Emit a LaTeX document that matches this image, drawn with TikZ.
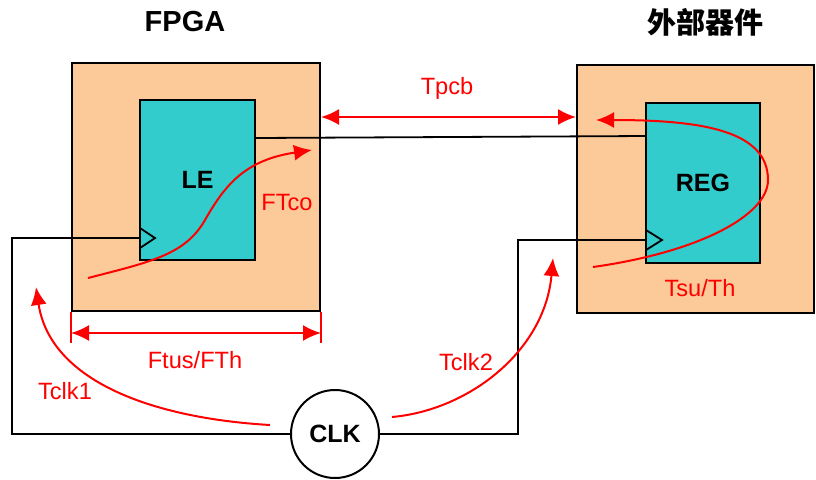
\documentclass[tikz,border=0pt]{standalone}
\usepackage{fontspec}
\setmainfont{Liberation Sans}
\newfontfamily\cjk{Noto Sans CJK SC}
\usetikzlibrary{arrows.meta}
\definecolor{chipOrange}{RGB}{252,202,153}
\definecolor{cellTeal}{RGB}{51,204,204}
\definecolor{pathRed}{RGB}{255,0,0}

\begin{document}
\begin{tikzpicture}[
  x=0.5pt, y=-0.5pt, font=\fontsize{11.8}{13}\selectfont,
  chip/.style={draw=black, fill=chipOrange, line width=1pt, inner sep=0pt},
  cellbox/.style={draw=black, fill=cellTeal, line width=1pt, inner sep=0pt,
                  font=\fontsize{12.5}{14}\selectfont\bfseries},
  wire/.style={draw=black, line width=0.9pt},
  dimarrow/.style={{Latex[length=9pt,width=8pt]}-{Latex[length=9pt,width=8pt]},
                   draw=pathRed, line width=1pt},
  tim/.style={-{Latex[length=9pt,width=8pt]}, draw=pathRed, line width=1pt},
  lab/.style={text=pathRed},
  ttl/.style={font=\fontsize{14.5}{16}\selectfont\bfseries},
]
\useasboundingbox (0,0) rectangle (816,479);

% ---------------- boxes ----------------
\node[chip, minimum width=124pt, minimum height=124pt] (fpga) at (196,187) {};
\node[chip, minimum width=118.5pt, minimum height=124pt] (ext) at (695.5,189) {};
\node[cellbox, minimum width=57.5pt, minimum height=80pt] (le) at (197.5,180) {LE};
\node[cellbox, minimum width=57pt, minimum height=80pt] (reg) at (703,183) {REG};
\node[circle, draw=black, fill=white, line width=1pt, minimum size=44pt, inner sep=0pt,
      font=\fontsize{12.5}{14}\selectfont\bfseries] (clk) at (335,434) {CLK};

\node[ttl] (fpgaT) at (185,22) {FPGA};
\node[ttl, font={\cjk\fontsize{14.5}{16}\selectfont\bfseries}] (extT) at (705,22) {外部器件};

% ---------------- wires ----------------
\coordinate (leck) at (140,238);
\coordinate (regck) at (646,240);
\coordinate (lft) at (12,0);
\coordinate (rjog) at (518,0);
\coordinate (leq) at (255,138);
\coordinate (regd) at (646,136);

\draw[wire] (leq) -- (regd);
\draw[wire] (clk.west) -| (lft |- leck) -- (leck);
\draw[wire] (clk.east) -| (rjog |- regck) -- (regck);
% clock inputs
\draw[wire] (leck) ++(0,-10) -- ++(15,10) -- ++(-15,10);
\draw[wire] (regck) ++(0,-10) -- ++(16,10) -- ++(-16,10);

% ---------------- timing marks ----------------
\coordinate (pcb) at (0,117);
\draw[dimarrow] (fpga.east |- pcb) -- (ext.west |- pcb);
\node[lab] (tpcbL) at (447,88) {Tpcb};

\draw[pathRed, line width=1pt] (fpga.south west) -- ++(0,31);
\draw[pathRed, line width=1pt] (fpga.south east) -- ++(0,31);
\path (fpga.south west) ++(0,21) coordinate (ftL);
\path (fpga.south east) ++(0,21) coordinate (ftR);
\draw[dimarrow] (ftL) -- (ftR);
\node[lab] (ftusL) at (195,360) {Ftus/FTh};

\coordinate (coA) at (88,278);
\coordinate (coM) at (205,220);
\coordinate (coB) at (312,150);
\draw[tim] (coA) .. controls (150,262) and (185,255) .. (coM)
                 .. controls (225,185) and (245,160) .. (coB);
\node[lab] (ftcoL) at (287,202) {FTco};

\coordinate (suA) at (593,267);
\coordinate (suM) at (768,180);
\coordinate (suB) at (596,120);
\draw[tim] (suA) .. controls (700,252) and (768,215) .. (suM)
                 .. controls (768,130) and (700,120) .. (suB);
\node[lab] (tsuL) at (700,288) {Tsu/Th};

\coordinate (c1A) at (270,425);
\coordinate (c1B) at (36,287);
\draw[tim] (c1A) .. controls (150,418) and (50,380) .. (c1B);
\node[lab] (tclk1L) at (65,391) {Tclk1};

\coordinate (c2A) at (392,417);
\coordinate (c2B) at (553,258);
\draw[tim] (c2A) .. controls (470,410) and (545,350) .. (c2B);
\node[lab] (tclk2L) at (466,362) {Tclk2};
\end{tikzpicture}
\end{document}
